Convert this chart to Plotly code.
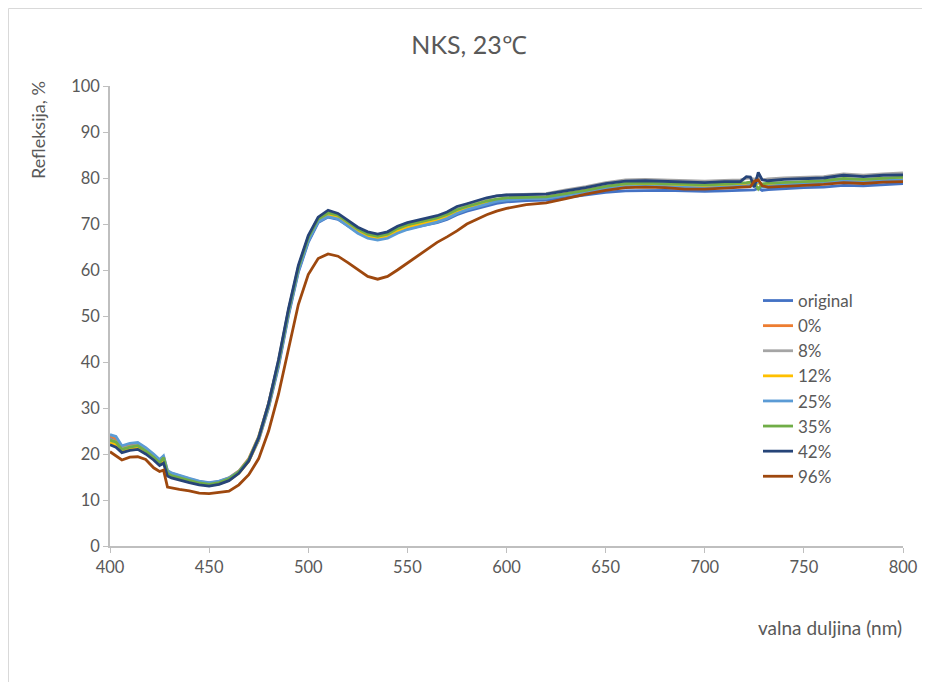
import plotly.graph_objects as go

wavelength = [400,403,406,410,414,418,422,425,427,429,
              431,435,440,445,450,455,460,465,470,475,
              480,485,490,495,500,505,510,515,520,525,
              530,535,540,545,550,555,560,565,570,575,
              580,585,590,595,600,610,620,630,640,650,
              660,670,680,690,700,710,718,721,723,725,
              727,729,732,740,750,760,770,780,790,800]

original = [23.5,23.0,21.3,21.8,22.0,21.0,19.5,18.3,19.0,16.0,
            15.6,15.0,14.4,13.9,13.6,13.9,14.6,16.0,18.5,23.0,
            30.0,39.0,50.0,59.5,66.0,70.3,71.5,71.0,69.6,68.2,
            67.2,66.8,67.2,68.3,69.0,69.4,69.8,70.3,71.0,72.0,
            72.8,73.4,74.0,74.5,74.8,75.1,75.2,75.8,76.3,76.9,
            77.2,77.3,77.3,77.2,77.1,77.2,77.3,77.4,77.5,77.4,
            77.8,77.3,77.5,77.7,77.9,78.0,78.4,78.3,78.6,78.8]

p0 = [24.0,23.3,21.6,22.0,22.3,21.3,19.8,18.6,19.5,16.3,
      15.8,15.2,14.6,14.0,13.7,14.0,14.8,16.3,19.0,23.8,
      31.0,40.0,51.0,60.3,66.8,71.0,72.2,71.7,70.2,68.8,
      67.8,67.3,67.8,68.9,69.7,70.2,70.7,71.2,72.0,73.0,
      73.7,74.3,74.9,75.3,75.6,75.8,75.9,76.6,77.3,78.1,
      78.6,78.7,78.6,78.4,78.3,78.5,78.6,78.8,78.9,78.6,
      79.4,78.5,78.7,78.9,79.1,79.3,79.8,79.6,79.9,80.1]

p8 = [23.2,22.7,21.2,21.6,21.9,20.8,19.4,18.2,18.8,15.9,
      15.4,14.9,14.3,13.8,13.5,13.8,14.6,16.1,18.8,23.7,
      31.0,40.3,51.2,60.6,67.2,71.3,72.6,72.1,70.6,69.1,
      68.1,67.7,68.2,69.3,70.1,70.6,71.1,71.6,72.4,73.6,
      74.3,74.9,75.6,76.1,76.3,76.5,76.6,77.4,78.1,79.0,
      79.6,79.7,79.6,79.4,79.3,79.5,79.6,79.9,80.0,79.7,
      80.2,79.6,79.8,80.0,80.1,80.3,80.9,80.6,80.9,81.1]

p12 = [22.5,22.0,20.7,21.2,21.4,20.4,19.0,17.8,18.3,15.4,
       15.0,14.5,14.0,13.5,13.2,13.5,14.3,15.8,18.4,23.2,
       30.5,39.8,50.8,60.2,66.8,70.9,72.0,71.5,70.0,68.5,
       67.4,66.9,67.3,68.5,69.3,69.8,70.3,70.8,71.6,72.7,
       73.4,74.0,74.7,75.1,75.4,75.6,75.7,76.4,77.1,77.9,
       78.4,78.5,78.4,78.2,78.1,78.3,78.4,78.6,78.7,78.4,
       79.0,78.3,78.5,78.7,78.9,79.1,79.6,79.4,79.7,79.9]

p25 = [24.2,23.8,21.8,22.3,22.5,21.4,20.0,18.8,19.6,16.4,
       15.9,15.3,14.7,14.1,13.8,14.1,14.8,16.2,18.7,23.4,
       30.5,39.5,50.5,59.8,66.3,70.5,71.6,71.1,69.6,68.0,
       66.9,66.5,66.9,68.0,68.8,69.3,69.8,70.4,71.2,72.3,
       73.1,73.7,74.4,74.9,75.2,75.5,75.6,76.3,76.9,77.7,
       78.1,78.2,78.1,77.9,77.8,78.0,78.1,78.3,78.4,78.2,
       79.6,78.0,78.2,78.5,78.7,78.9,79.3,79.1,79.4,79.6]

p35 = [23.0,22.6,21.0,21.5,21.8,20.7,19.3,18.1,19.2,15.8,
       15.3,14.8,14.2,13.7,13.4,13.8,14.6,16.1,18.8,23.6,
       30.8,40.0,51.0,60.5,67.0,71.1,72.4,71.9,70.4,68.9,
       67.8,67.3,67.8,69.0,69.8,70.3,70.8,71.3,72.1,73.1,
       73.8,74.4,75.0,75.4,75.7,75.8,75.9,76.6,77.3,78.2,
       78.8,78.9,78.8,78.6,78.5,78.7,78.8,79.0,79.1,78.9,
       77.6,78.7,78.9,79.1,79.2,79.4,79.9,79.7,80.0,80.2]

p42 = [22.0,21.5,20.3,20.8,21.0,20.0,18.7,17.5,18.0,15.2,
       14.8,14.3,13.8,13.3,13.0,13.4,14.2,15.8,18.5,23.5,
       31.0,40.5,51.5,61.0,67.5,71.5,73.0,72.3,70.8,69.3,
       68.3,67.8,68.3,69.5,70.3,70.8,71.3,71.8,72.6,73.8,
       74.4,75.0,75.7,76.1,76.3,76.4,76.5,77.2,77.9,78.8,
       79.3,79.4,79.3,79.1,79.0,79.2,79.2,80.3,80.2,78.0,
       81.2,79.6,79.4,79.7,79.8,80.0,80.6,80.3,80.6,80.7]

p96 = [20.5,19.5,18.7,19.3,19.4,18.8,17.0,16.2,16.5,12.8,
       12.6,12.3,12.0,11.5,11.4,11.6,11.9,13.3,15.5,19.0,
       25.0,33.0,43.0,52.5,59.0,62.5,63.5,63.0,61.6,60.0,
       58.6,58.0,58.6,60.0,61.5,63.0,64.5,66.0,67.2,68.5,
       70.0,71.0,72.0,72.8,73.4,74.2,74.6,75.5,76.5,77.3,
       77.9,78.0,77.9,77.6,77.6,77.8,77.9,78.0,78.1,79.3,
       79.6,78.3,78.0,78.2,78.4,78.6,79.0,78.8,79.1,79.2]

series_names = ["original", "0%", "8%", "12%", "25%", "35%", "42%", "96%"]
series_values = [original, p0, p8, p12, p25, p35, p42, p96]
colors = ["#4472C4", "#ED7D31", "#A5A5A5", "#FFC000", "#5B9BD5", "#70AD47", "#264478", "#9E480E"]

x_ticks = [400, 450, 500, 550, 600, 650, 700, 750, 800]
y_ticks = [0, 10, 20, 30, 40, 50, 60, 70, 80, 90, 100]

FONT = "Lato"
TXT = "#595959"
AX = "#BFBFBF"

# page is offset by 8px (body margin); figure spans page px 8..930
W, H = 922, 674
L, R, T, B = 102, 27, 78, 136
PW, PH = W - L - R, H - T - B   # 793 x 460


def px(page_x):
    return (page_x - 8 - L) / PW


def py(page_y):
    return (H - B - (page_y - 8)) / PH


fig = go.Figure()
for name, vals, col in zip(series_names, series_values, colors):
    fig.add_trace(go.Scatter(x=wavelength, y=vals, mode="lines", name=name,
                             line=dict(color=col, width=2.8)))

axis_common = dict(showgrid=False, zeroline=False, tickcolor=AX, tickwidth=1, ticklen=5)

fig.update_layout(
    width=W, height=H,
    paper_bgcolor="white", plot_bgcolor="white",
    margin=dict(l=L, r=R, t=T, b=B),
    font=dict(family=FONT, color=TXT, size=16),
    title=dict(text="NKS, 23℃", x=0.5, xanchor="center", y=1 - 37 / H, yanchor="middle",
               font=dict(family=FONT, size=25, color=TXT)),
    showlegend=True,
    legend=dict(x=px(758), y=py(283), xanchor="left", yanchor="top",
                bgcolor="rgba(0,0,0,0)", tracegroupgap=0,
                font=dict(family=FONT, size=17, color=TXT)),
    xaxis=dict(range=[400, 800], tickvals=x_ticks, showline=True, linecolor=AX, linewidth=1.5,
               ticks="outside", tickfont=dict(family=FONT, size=16.5, color=TXT), **axis_common),
    yaxis=dict(range=[0, 100], tickvals=y_ticks, showline=True, linecolor=AX, linewidth=1.5,
               ticks="outside", tickfont=dict(family=FONT, size=16.5, color=TXT), **axis_common),
    xaxis2=dict(range=[400, 800], tickvals=x_ticks, overlaying="x", side="bottom",
                anchor="y", showline=False, showticklabels=False, ticks="inside", **axis_common),
    yaxis2=dict(range=[0, 100], tickvals=y_ticks, overlaying="y", side="left",
                anchor="x", showline=False, showticklabels=False, ticks="inside", **axis_common),
    annotations=[
        dict(text="Refleksija, %", xref="paper", yref="paper", x=px(38), y=py(130),
             xanchor="center", yanchor="middle", textangle=-90, showarrow=False,
             font=dict(family=FONT, size=18, color=TXT)),
        dict(text="valna duljina (nm)", xref="paper", yref="paper", x=px(904), y=py(627),
             xanchor="right", yanchor="middle", showarrow=False,
             font=dict(family=FONT, size=19, color=TXT)),
    ],
    shapes=[dict(type="rect", xref="paper", yref="paper",
                 x0=px(8.5), x1=px(960), y0=py(720), y1=py(8.5),
                 line=dict(color="#D9D9D9", width=1), fillcolor="rgba(0,0,0,0)", layer="below")],
)

fig.write_html("out.html")
